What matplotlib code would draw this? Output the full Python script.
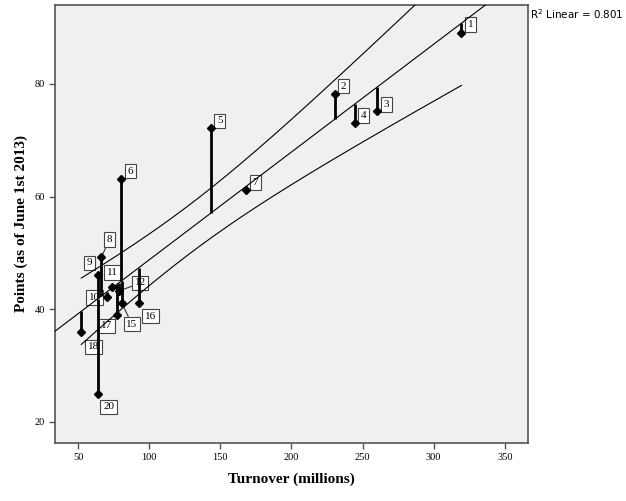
import numpy as np
import matplotlib
matplotlib.use("Agg")
import matplotlib.pyplot as plt

# cases (cases 13, 14 and 19 have no point)
case_ids = ["1", "2", "3", "4", "5", "6", "7", "8", "9", "10",
            "11", "12", "15", "16", "17", "18", "20"]
turnover = [319.5, 230.3, 260.3, 244.6, 143.4, 80.3, 168.3, 66.4, 64.3, 70.6,
            74.2, 78.9, 80.8, 92.5, 77.7, 52.3, 63.8]
points = [89.1, 78.2, 75.1, 73.1, 72.2, 63.1, 61.1, 49.2, 46.1, 42.1,
          44.0, 43.25, 41.1, 41.1, 39.0, 36.0, 25.0]
r2_text = "0.801"

x_ticks = [50, 100, 150, 200, 250, 300, 350]
y_ticks = [20, 40, 60, 80]

# label box offsets from the point, in pixels (dx right, dy up)
label_offsets = {
    "1": (9, 8), "2": (9, 8), "3": (9, 7), "4": (9, 7), "5": (9, 7),
    "6": (9, 8), "7": (9, 8), "8": (8, 18), "9": (-9, 12), "10": (-13, 0),
    "11": (0, 14), "12": (21, 8), "15": (10, -21), "16": (12, -13),
    "17": (-11, -11), "18": (12, -15), "20": (11, -13),
}
leader_cases = {"8", "12", "15"}

x = np.array(turnover)
y = np.array(points)
n = len(x)

# linear fit and 95% confidence band of the mean
slope, intercept = np.polyfit(x, y, 1)
y_hat = intercept + slope * x
s = np.sqrt(np.sum((y - y_hat) ** 2) / (n - 2))
sxx = np.sum((x - x.mean()) ** 2)
t_crit = 2.131  # t(0.975, df=15)

xlim = (33.8, 366.3)
ylim = (16.27, 94.0)

fig = plt.figure(figsize=(6.26, 5.01), dpi=100)
ax = fig.add_axes([55 / 626, 58 / 501, 473 / 626, 438 / 501])
ax.set_facecolor("#f0f0f0")

# fit line across the whole axis
x_line = np.linspace(xlim[0], xlim[1], 200)
ax.plot(x_line, intercept + slope * x_line, color="black", lw=0.8, zorder=3)

# confidence curves over the data range
x_band = np.linspace(x.min(), x.max(), 200)
half = t_crit * s * np.sqrt(1 / n + (x_band - x.mean()) ** 2 / sxx)
ax.plot(x_band, intercept + slope * x_band + half, color="black", lw=0.8, zorder=3)
ax.plot(x_band, intercept + slope * x_band - half, color="black", lw=0.8, zorder=3)

# residual drop lines
ax.vlines(x, y, y_hat, color="black", lw=2, zorder=3)
ax.plot(x, y, "D", color="black", ms=4, zorder=4)

for cid, xi, yi in zip(case_ids, x, y):
    dx, dy = label_offsets[cid]
    arrow = dict(arrowstyle="-", color="#333333", lw=0.8, shrinkA=0, shrinkB=0) if cid in leader_cases else None
    ax.annotate(cid, (xi, yi), xytext=(dx, dy), textcoords="offset pixels",
                ha="center", va="center", fontsize=8, family="Liberation Serif",
                bbox=dict(boxstyle="square,pad=0.25", fc="white", ec="#444444", lw=0.8),
                arrowprops=arrow, zorder=2)

ax.set_xlim(xlim)
ax.set_ylim(ylim)
ax.set_xticks(x_ticks)
ax.set_yticks(y_ticks)
for spine in ax.spines.values():
    spine.set_color("#555555")
    spine.set_linewidth(1.2)
ax.tick_params(direction="out", length=4, width=1, color="#555555", labelsize=7.5, pad=3)
for lab in ax.get_xticklabels() + ax.get_yticklabels():
    lab.set_family("Liberation Serif")

ax.set_xlabel("Turnover (millions)", family="Liberation Serif", fontweight="bold", fontsize=11, labelpad=8)
ax.set_ylabel("Points (as of June 1st 2013)", family="Liberation Serif", fontweight="bold", fontsize=11, labelpad=5)

fig.text(530 / 626, 1 - 14 / 501, r"R$^2$ Linear = " + r2_text, fontsize=7.5,
         family="DejaVu Sans", va="center", ha="left")

fig.savefig("out.png", dpi=100)
